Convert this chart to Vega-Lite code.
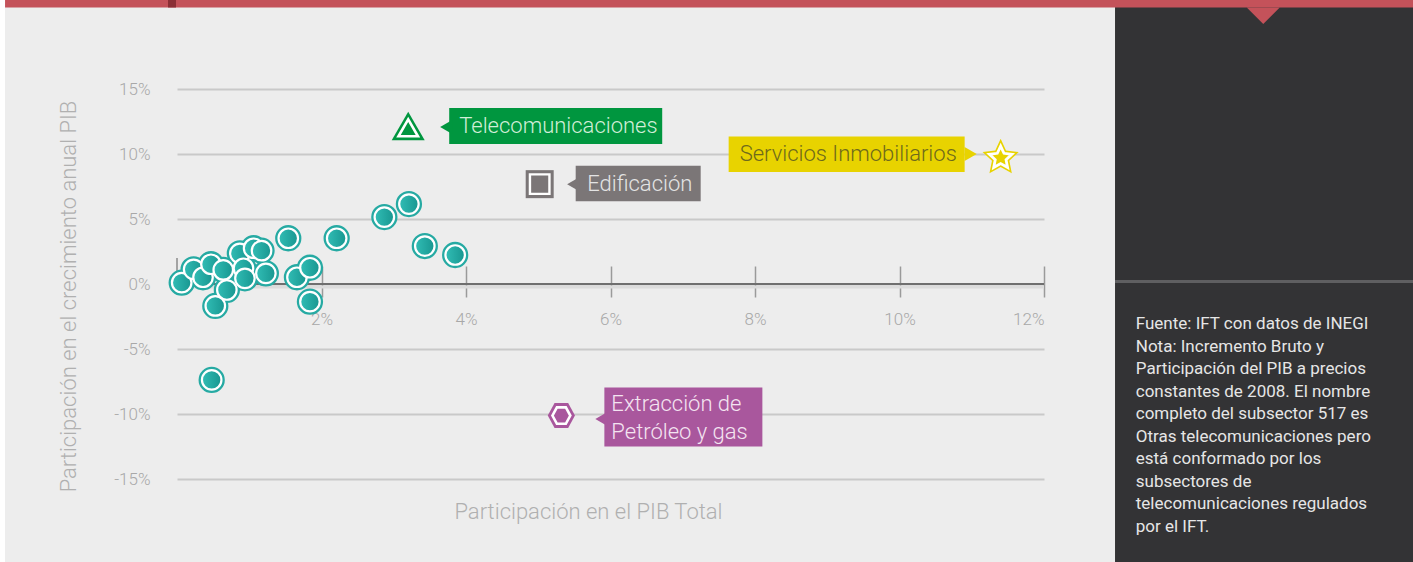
{
  "$schema": "https://vega.github.io/schema/vega-lite/v6.json",
  "width": 867,
  "height": 390,
  "autosize": {"type": "none"},
  "padding": {"left": 177, "top": 89, "right": 369, "bottom": 83},
  "background": "#ededed",
  "config": {"view": {"stroke": null}, "font": "Roboto"},
  "datasets": {
    "subsectores": [
      {"sector": "Telecomunicaciones", "grupo": "Telecomunicaciones", "participacion": 3.2, "crecimiento": 12.15},
      {"sector": "Edificación", "grupo": "Edificación", "participacion": 5.02, "crecimiento": 7.68},
      {"sector": "Servicios Inmobiliarios", "grupo": "Servicios Inmobiliarios", "participacion": 11.4, "crecimiento": 9.7},
      {"sector": "Extracción de Petróleo y gas", "grupo": "Extracción de Petróleo y gas", "participacion": 5.32, "crecimiento": -10.12},
      {"sector": "Otro subsector", "grupo": "Otros", "participacion": 0.065, "crecimiento": 0.1},
      {"sector": "Otro subsector", "grupo": "Otros", "participacion": 0.23, "crecimiento": 1.13},
      {"sector": "Otro subsector", "grupo": "Otros", "participacion": 0.36, "crecimiento": 0.52},
      {"sector": "Otro subsector", "grupo": "Otros", "participacion": 0.47, "crecimiento": 1.52},
      {"sector": "Otro subsector", "grupo": "Otros", "participacion": 0.64, "crecimiento": 1.08},
      {"sector": "Otro subsector", "grupo": "Otros", "participacion": 0.69, "crecimiento": -0.46},
      {"sector": "Otro subsector", "grupo": "Otros", "participacion": 0.53, "crecimiento": -1.69},
      {"sector": "Otro subsector", "grupo": "Otros", "participacion": 0.87, "crecimiento": 2.36},
      {"sector": "Otro subsector", "grupo": "Otros", "participacion": 1.06, "crecimiento": 2.75},
      {"sector": "Otro subsector", "grupo": "Otros", "participacion": 1.17, "crecimiento": 2.56},
      {"sector": "Otro subsector", "grupo": "Otros", "participacion": 0.92, "crecimiento": 1.21},
      {"sector": "Otro subsector", "grupo": "Otros", "participacion": 0.94, "crecimiento": 0.44},
      {"sector": "Otro subsector", "grupo": "Otros", "participacion": 1.23, "crecimiento": 0.82},
      {"sector": "Otro subsector", "grupo": "Otros", "participacion": 1.54, "crecimiento": 3.52},
      {"sector": "Otro subsector", "grupo": "Otros", "participacion": 2.21, "crecimiento": 3.52},
      {"sector": "Otro subsector", "grupo": "Otros", "participacion": 1.66, "crecimiento": 0.52},
      {"sector": "Otro subsector", "grupo": "Otros", "participacion": 1.84, "crecimiento": 1.25},
      {"sector": "Otro subsector", "grupo": "Otros", "participacion": 1.84, "crecimiento": -1.36},
      {"sector": "Otro subsector", "grupo": "Otros", "participacion": 2.87, "crecimiento": 5.15},
      {"sector": "Otro subsector", "grupo": "Otros", "participacion": 3.21, "crecimiento": 6.15},
      {"sector": "Otro subsector", "grupo": "Otros", "participacion": 3.43, "crecimiento": 2.92},
      {"sector": "Otro subsector", "grupo": "Otros", "participacion": 3.85, "crecimiento": 2.23},
      {"sector": "Otro subsector", "grupo": "Otros", "participacion": 0.48, "crecimiento": -7.38}
    ],
    "uno": [{"k": 1}]
  },
  "layer": [
    {
      "data": {"name": "subsectores"},
      "transform": [{"filter": "datum.grupo === 'Otros'"}],
      "mark": {"type": "point", "shape": "circle", "filled": true, "size": 676, "fill": "#26aaa3", "stroke": null, "opacity": 0},
      "encoding": {
        "x": {
          "field": "participacion",
          "type": "quantitative",
          "scale": {"domain": [0, 12], "nice": false, "zero": false},
          "axis": {
            "title": "Participación en el PIB Total",
            "values": [2, 4, 6, 8, 10, 12],
            "labelExpr": "datum.value + '%'",
            "offset": -213,
            "domain": false,
            "grid": false,
            "ticks": true,
            "tickSize": 31,
            "tickColor": "#9a9a9a",
            "tickWidth": 1.5,
            "labelPadding": 14,
            "labelFont": "Roboto",
            "labelFontWeight": 300,
            "labelFontSize": 17,
            "labelColor": "#a8a8a8",
            "titleFont": "Roboto",
            "titleFontWeight": 300,
            "titleFontSize": 22,
            "titleColor": "#b0b0b0",
            "titleX": 411,
            "titleY": 245,
            "titleBaseline": "middle",
            "titleAlign": "center"
          }
        },
        "y": {
          "field": "crecimiento",
          "type": "quantitative",
          "scale": {"domain": [-15, 15], "nice": false, "zero": false},
          "axis": {
            "title": "Participación en el crecimiento anual PIB",
            "values": [-15, -10, -5, 0, 5, 10, 15],
            "labelExpr": "datum.value + '%'",
            "domain": false,
            "ticks": false,
            "tickSize": 0,
            "grid": true,
            "gridColor": "#c9c9c9",
            "gridWidth": 2,
            "labelPadding": 27,
            "labelFont": "Roboto",
            "labelFontWeight": 300,
            "labelFontSize": 17,
            "labelColor": "#a8a8a8",
            "titleFont": "Roboto",
            "titleFontWeight": 300,
            "titleFontSize": 22,
            "titleColor": "#b0b0b0",
            "titleX": -109,
            "titleY": 207,
            "titleAngle": -90,
            "titleBaseline": "middle",
            "titleAlign": "center"
          }
        }
      }
    },
    {
      "data": {"name": "uno"},
      "mark": {"type": "rect", "color": "#ffffff"},
      "encoding": {"x": {"datum": -2.7}, "x2": {"datum": -2.38}, "y": {"datum": 25}, "y2": {"datum": -30}}
    },
    {
      "data": {"name": "uno"},
      "mark": {"type": "rect", "color": "#333335"},
      "encoding": {"x": {"datum": 12.983}, "x2": {"datum": 20}, "y": {"datum": 25}, "y2": {"datum": -30}}
    },
    {
      "data": {"name": "uno"},
      "mark": {"type": "rect", "color": "#c4525a"},
      "encoding": {"x": {"datum": -2.38}, "x2": {"datum": 20}, "y": {"datum": 25}, "y2": {"datum": 21.27}}
    },
    {
      "data": {"name": "uno"},
      "mark": {"type": "rect", "color": "#8b2f36"},
      "encoding": {"x": {"datum": -0.125}, "x2": {"datum": -0.014}, "y": {"datum": 25}, "y2": {"datum": 21.27}}
    },
    {
      "data": {"name": "uno"},
      "mark": {"type": "point", "shape": "M-1,-0.5L1,-0.5L0,0.5Z", "size": 1089, "filled": true, "fill": "#c4525a", "stroke": null, "opacity": 1},
      "encoding": {"x": {"datum": 15.035}, "y": {"datum": 20.63}}
    },
    {
      "data": {"name": "uno"},
      "mark": {"type": "rule", "color": "#5f5f61", "strokeWidth": 3},
      "encoding": {"x": {"datum": 12.983}, "x2": {"datum": 20}, "y": {"datum": 0.19}}
    },
    {
      "data": {"name": "uno"},
      "mark": {"type": "rule", "color": "#dcdcdc", "strokeWidth": 3, "yOffset": 3},
      "encoding": {"x": {"datum": 0}, "x2": {"datum": 12}, "y": {"datum": 0}}
    },
    {
      "data": {"name": "uno"},
      "mark": {"type": "rule", "color": "#6f6f6f", "strokeWidth": 2},
      "encoding": {"x": {"datum": 0}, "x2": {"datum": 12}, "y": {"datum": 0}}
    },
    {
      "data": {"name": "uno"},
      "mark": {"type": "rule", "color": "#8a8a8a", "strokeWidth": 1.5},
      "encoding": {"x": {"datum": 0}, "y": {"datum": 0}, "y2": {"datum": 2}}
    },
    {
      "data": {"name": "subsectores"},
      "transform": [{"filter": "datum.grupo === 'Otros'"}],
      "mark": {"type": "point", "shape": "circle", "filled": true, "size": 690, "fill": "#26aaa3", "stroke": null, "opacity": 1},
      "encoding": {"x": {"field": "participacion", "type": "quantitative"}, "y": {"field": "crecimiento", "type": "quantitative"}}
    },
    {
      "data": {"name": "subsectores"},
      "transform": [{"filter": "datum.grupo === 'Otros'"}],
      "mark": {
        "type": "point", "shape": "circle", "filled": true, "size": 380, "opacity": 1,
        "fill": {"gradient": "linear", "x1": 0, "y1": 0, "x2": 1, "y2": 0, "stops": [{"offset": 0, "color": "#31bdb5"}, {"offset": 1, "color": "#189690"}]},
        "stroke": "#ffffff", "strokeWidth": 2.2
      },
      "encoding": {"x": {"field": "participacion", "type": "quantitative"}, "y": {"field": "crecimiento", "type": "quantitative"}}
    },
    {
      "data": {"name": "subsectores"},
      "transform": [{"filter": "datum.grupo !== 'Otros'"}],
      "layer": [
        {
          "transform": [{"filter": "datum.grupo === 'Telecomunicaciones'"}],
          "layer": [
            {"mark": {"type": "point", "shape": "triangle-up", "filled": true, "size": 1089, "fill": "#00963f", "stroke": null, "opacity": 1}},
            {"mark": {"type": "point", "shape": "triangle-up", "filled": true, "size": 380, "yOffset": 1.8, "fill": "#00963f", "stroke": "#ffffff", "strokeWidth": 2.6, "opacity": 1}},
            {"mark": {"type": "rect", "color": "#00963f", "xOffset": 41, "x2Offset": 254, "yOffset": -18, "y2Offset": 18}, "encoding": {"x2": {"field": "participacion"}, "y2": {"field": "crecimiento"}}},
            {"mark": {"type": "point", "shape": "triangle-left", "filled": true, "size": 196, "fill": "#00963f", "stroke": null, "opacity": 1, "xOffset": 38, "yOffset": 1}},
            {"mark": {"type": "text", "align": "left", "baseline": "middle", "dx": 51, "dy": 0, "fontSize": 22, "fontWeight": 300, "font": "Roboto", "color": "#d2eed8"}, "encoding": {"text": {"field": "sector"}}}
          ]
        },
        {
          "transform": [{"filter": "datum.grupo === 'Edificación'"}],
          "layer": [
            {"mark": {"type": "point", "shape": "square", "filled": true, "size": 784, "fill": "#7b7677", "stroke": null, "opacity": 1}},
            {"mark": {"type": "point", "shape": "square", "filled": true, "size": 380, "fill": "#7b7677", "stroke": "#ffffff", "strokeWidth": 2.4, "opacity": 1}},
            {"mark": {"type": "rect", "color": "#7b7677", "xOffset": 36, "x2Offset": 161, "yOffset": -18.5, "y2Offset": 17}, "encoding": {"x2": {"field": "participacion"}, "y2": {"field": "crecimiento"}}},
            {"mark": {"type": "point", "shape": "triangle-left", "filled": true, "size": 196, "fill": "#7b7677", "stroke": null, "opacity": 1, "xOffset": 33.5, "yOffset": 0}},
            {"mark": {"type": "text", "align": "left", "baseline": "middle", "dx": 47.5, "dy": 0, "fontSize": 22, "fontWeight": 300, "font": "Roboto", "color": "#e4e4e4"}, "encoding": {"text": {"field": "sector"}}}
          ]
        },
        {
          "transform": [{"filter": "datum.grupo === 'Servicios Inmobiliarios'"}],
          "layer": [
            {"mark": {"type": "point", "shape": "M0,-1L0.282,-0.388L0.951,-0.309L0.456,0.148L0.588,0.809L0,0.48L-0.588,0.809L-0.456,0.148L-0.951,-0.309L-0.282,-0.388Z", "filled": true, "size": 1450, "fill": "#e8d300", "stroke": null, "opacity": 1}},
            {"mark": {"type": "point", "shape": "M0,-1L0.282,-0.388L0.951,-0.309L0.456,0.148L0.588,0.809L0,0.48L-0.588,0.809L-0.456,0.148L-0.951,-0.309L-0.282,-0.388Z", "filled": true, "size": 560, "fill": "#e8d300", "stroke": "#ffffff", "strokeWidth": 2.8, "opacity": 1}},
            {"mark": {"type": "rect", "color": "#e8d300", "xOffset": -272, "x2Offset": -36, "yOffset": -21.5, "y2Offset": 14}, "encoding": {"x2": {"field": "participacion"}, "y2": {"field": "crecimiento"}}},
            {"mark": {"type": "point", "shape": "triangle-right", "filled": true, "size": 196, "fill": "#e8d300", "stroke": null, "opacity": 1, "xOffset": -30, "yOffset": -4}},
            {"mark": {"type": "text", "align": "left", "baseline": "middle", "dx": -261, "dy": -4, "fontSize": 22, "fontWeight": 300, "font": "Roboto", "color": "#6e6a1c"}, "encoding": {"text": {"field": "sector"}}}
          ]
        },
        {
          "transform": [{"filter": "datum.grupo === 'Extracción de Petróleo y gas'"}],
          "layer": [
            {"mark": {"type": "point", "shape": "M-1,0L-0.5,-0.92L0.5,-0.92L1,0L0.5,0.92L-0.5,0.92Z", "filled": true, "size": 740, "fill": "#a9579d", "stroke": null, "opacity": 1}},
            {"mark": {"type": "point", "shape": "M-1,0L-0.5,-0.92L0.5,-0.92L1,0L0.5,0.92L-0.5,0.92Z", "filled": true, "size": 320, "fill": "#a9579d", "stroke": "#ffffff", "strokeWidth": 2.6, "opacity": 1}},
            {"mark": {"type": "rect", "color": "#a9579d", "xOffset": 43, "x2Offset": 201, "yOffset": -28, "y2Offset": 31}, "encoding": {"x2": {"field": "participacion"}, "y2": {"field": "crecimiento"}}},
            {"mark": {"type": "point", "shape": "triangle-left", "filled": true, "size": 196, "fill": "#a9579d", "stroke": null, "opacity": 1, "xOffset": 40, "yOffset": 3.5}},
            {"mark": {"type": "text", "text": ["Extracción de", "Petróleo y gas"], "lineHeight": 28, "align": "left", "baseline": "middle", "dx": 50, "dy": -12, "fontSize": 22, "fontWeight": 300, "font": "Roboto", "color": "#f4e4f1"}}
          ]
        }
      ],
      "encoding": {"x": {"field": "participacion", "type": "quantitative"}, "y": {"field": "crecimiento", "type": "quantitative"}}
    },
    {
      "data": {"name": "uno"},
      "mark": {
        "type": "text",
        "text": ["Fuente: IFT con datos de INEGI", "Nota: Incremento Bruto y", "Participación del PIB a precios", "constantes de 2008. El nombre", "completo del subsector 517 es", "Otras telecomunicaciones pero", "está conformado por los", "subsectores de", "telecomunicaciones regulados", "por el IFT."],
        "align": "left", "baseline": "alphabetic", "fontSize": 17, "lineHeight": 22.5, "font": "Roboto", "color": "#e6e6e6"
      },
      "encoding": {"x": {"datum": 13.27}, "y": {"datum": -3.485}}
    }
  ]
}
